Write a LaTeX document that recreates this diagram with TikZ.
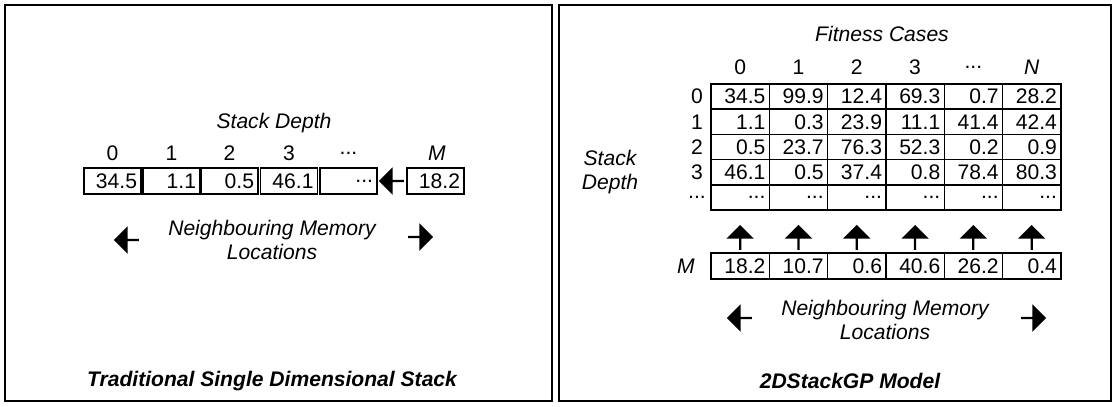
\documentclass[tikz,border=0pt]{standalone}
\usepackage{fontspec}
\setmainfont{Liberation Sans}
\usetikzlibrary{shapes.arrows}
\newcommand\dts{...}
\tikzset{
  cell/.style={draw,thick,minimum height=0.52cm,text width=#1,align=right,inner sep=2pt,font=\fontsize{12}{14}\selectfont},
  cell/.default=0.95cm,
  lbl/.style={font=\fontsize{12}{14}\selectfont\itshape,align=center},
  hdr/.style={font=\fontsize{12}{14}\selectfont},
  blk/.style={single arrow,fill=black,minimum height=0.5cm,minimum width=0.55cm,single arrow head extend=0.08cm,inner sep=0pt,shape border rotate=#1},
  ttl/.style={font=\fontsize{12}{14}\selectfont\bfseries\itshape}
}
\begin{document}
\begin{tikzpicture}[x=0.02cm,y=-0.02cm]
\useasboundingbox (0,0) rectangle (1116,406);
\draw[thick] (5,5) rectangle (552,401);
\draw[thick] (559,5) rectangle (1111,401);

% left panel
\node[lbl] (sdl) at (274,123) {Stack Depth};
\foreach \v/\h/\x [count=\i] in {34.5/0/112.5,1.1/1/171.5,0.5/2/229.5,46.1/3/289,\dts/\dts/348.5}
  {\node[cell=0.98cm,minimum width=1.14cm] (l\i) at (\x,181) {\v};
   \node[hdr] (lh\i) at (\x,153) {\h};}
\node[cell=0.98cm,minimum width=1.14cm] (lm) at (435.5,181) {18.2};
\node[hdr,font=\fontsize{12}{14}\selectfont\itshape] (lhm) at (437,153) {M};
\node[blk=180] (la) at (392,181) {};
\node[lbl] (nml) at (272,240) {Neighbouring Memory\\Locations};
\node[blk=180] (nmla) at (127,240) {};
\node[blk=0] (nmlb) at (420,237) {};
\node[ttl] (tl) at (272,381) {Traditional Single Dimensional Stack};

% right panel
\node[lbl] (fc) at (882,34) {Fitness Cases};
\node[lbl] (sdr) at (610,172) {Stack\\Depth};
\foreach \h [count=\i] in {0,1,2,3,\dts,\textit{N}}
  \node[hdr] (rh\i) at ({711+58.3*(\i-0.5)},67) {\h};
\foreach \row [count=\j] in {{34.5,99.9,12.4,69.3,0.7,28.2},{1.1,0.3,23.9,11.1,41.4,42.4},{0.5,23.7,76.3,52.3,0.2,0.9},{46.1,0.5,37.4,0.8,78.4,80.3},{\dts,\dts,\dts,\dts,\dts,\dts}}
  \foreach \v [count=\i] in \row
    \node[cell=1.01cm,minimum width=1.166cm,minimum height=0.5cm] (c\j-\i) at ({711+58.3*(\i-0.5)},{84+25.2*(\j-0.5)}) {\v};
\foreach \r [count=\j] in {0,1,2,3,\dts}
  \node[hdr] (rl\j) at (697,{84+25.2*(\j-0.5)}) {\r};
\foreach \v [count=\i] in {18.2,10.7,0.6,40.6,26.2,0.4}
  {\node[cell=1.01cm,minimum width=1.166cm] (m\i) at ({711+58.3*(\i-0.5)},266) {\v};
   \node[blk=90] (ua\i) at ({711+58.3*(\i-0.5)},238) {};}
\node[hdr,font=\fontsize{12}{14}\selectfont\itshape] (rm) at (686,266) {M};
\node[lbl] (nmr) at (885,320) {Neighbouring Memory\\Locations};
\node[blk=180] (nmra) at (740,318) {};
\node[blk=0] (nmrb) at (1033,318) {};
\node[ttl] (tr) at (850,381) {2DStackGP Model};
\end{tikzpicture}
\end{document}
